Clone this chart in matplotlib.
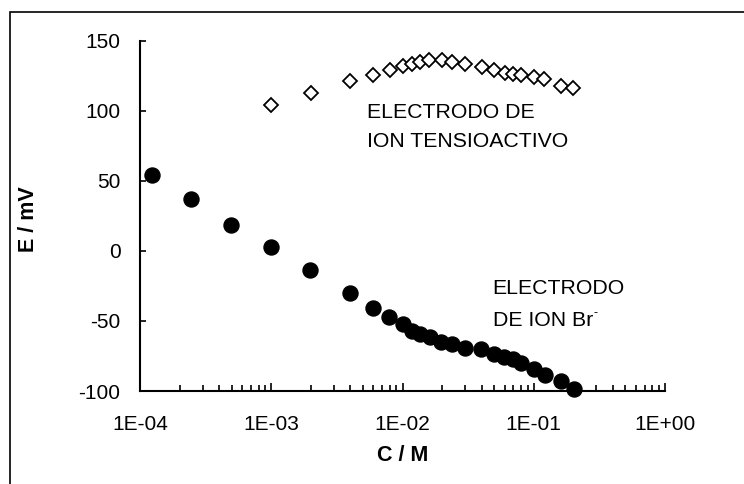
# Import libraries
import numpy as np
import matplotlib.pyplot as plt
from matplotlib.patches import Rectangle

plt.rcParams['font.family'] = ['Liberation Sans', 'DejaVu Sans']
plt.rcParams['axes.unicode_minus'] = False

# Electrodo de ion Br- (circles)
conc_br = [1.24e-4, 2.46e-4, 4.97e-4, 9.9e-4, 1.98e-3, 3.96e-3, 5.96e-3, 7.92e-3,
           0.0100, 0.0118, 0.0135, 0.0161, 0.0198, 0.0240, 0.0300, 0.0396,
           0.0496, 0.0596, 0.0693, 0.0798, 0.101, 0.121, 0.161, 0.201]
e_br = [54.2, 36.7, 18.8, 2.8, -13.4, -30.3, -40.4, -47.0,
        -52.3, -57.0, -59.4, -61.8, -64.7, -66.6, -69.0, -70.2,
        -73.3, -75.7, -77.1, -79.7, -84.5, -88.5, -92.8, -98.3]

# Electrodo de ion tensioactivo (diamonds)
conc_tens = [1.0e-3, 2.0e-3, 4.0e-3, 6.0e-3, 8.0e-3, 0.0100, 0.0118, 0.0135,
             0.0160, 0.0200, 0.0240, 0.0300, 0.0400, 0.0500, 0.0600, 0.0700,
             0.0800, 0.100, 0.120, 0.160, 0.200]
e_tens = [104.4, 112.5, 121.1, 125.7, 129.0, 131.9, 133.3, 134.7,
          136.2, 136.2, 134.7, 133.3, 131.4, 129.0, 127.1, 126.1,
          125.2, 123.8, 122.8, 118.0, 116.1]

# Axis ticks
x_ticks = [1e-4, 1e-3, 1e-2, 1e-1, 1e0]
x_tick_labels = ['1E-04', '1E-03', '1E-02', '1E-01', '1E+00']
y_ticks = [-100, -50, 0, 50, 100, 150]

fig = plt.figure(figsize=(7.44, 4.84), dpi=100)
ax = fig.add_axes([0.1882, 0.1921, 0.7056, 0.7238])

# Outer frame (cut at right and bottom edges)
frame_top = 1 - 12.5 / 484
fig.patches.append(Rectangle((10 / 744, -0.2), 1.2, frame_top + 0.2,
                             transform=fig.transFigure, fill=False,
                             edgecolor='black', linewidth=1.2, clip_on=False))

# Data points
ax.plot(conc_br, e_br, linestyle='none', marker='o', markersize=10.8,
        color='black', clip_on=False, zorder=3)
ax.plot(conc_tens, e_tens, linestyle='none', marker='D', markersize=7,
        markerfacecolor='white', markeredgecolor='black', markeredgewidth=1.3,
        clip_on=False, zorder=3)

ax.set_xscale('log')
ax.set_xlim(1e-4, 1)
ax.set_ylim(-100, 150)

ax.set_xticks(x_ticks)
ax.set_xticklabels(x_tick_labels)
ax.set_xticks([m * d for d in x_ticks[:-1] for m in range(2, 10)], minor=True)
ax.xaxis.set_minor_formatter(plt.NullFormatter())
ax.set_yticks(y_ticks)

ax.tick_params(axis='x', which='major', direction='in', length=6, width=1.2,
               pad=17, labelsize=15)
ax.tick_params(axis='x', which='minor', direction='in', length=4, width=1.2)
ax.tick_params(axis='y', which='major', direction='in', length=4.5, width=1.2,
               pad=14, labelsize=15)

for side in ['top', 'right']:
    ax.spines[side].set_visible(False)
for side in ['left', 'bottom']:
    ax.spines[side].set_linewidth(1.5)

# Axis labels
ax.set_xlabel('C / M', fontsize=15.5, fontweight='bold', va='center')
ax.xaxis.set_label_coords(0.5, -0.183)
ax.set_ylabel('E / mV', fontsize=15.5, fontweight='bold', va='center')
ax.yaxis.set_label_coords(-0.212, 0.49)

# Annotations
ax.text(0.4318, 0.7939, 'ELECTRODO DE', transform=ax.transAxes,
        fontsize=15.3, ha='left', va='center')
ax.text(0.4318, 0.7137, 'ION TENSIOACTIVO', transform=ax.transAxes,
        fontsize=15.3, ha='left', va='center')
ax.text(0.6718, 0.2932, 'ELECTRODO', transform=ax.transAxes,
        fontsize=15.3, ha='left', va='center')
ax.text(0.6718, 0.2027, 'DE ION Br', transform=ax.transAxes,
        fontsize=15.3, ha='left', va='center')
ax.text(0.8630, 0.2235, '-', transform=ax.transAxes,
        fontsize=9, ha='left', va='center')

plt.savefig('out.png', dpi=100)
